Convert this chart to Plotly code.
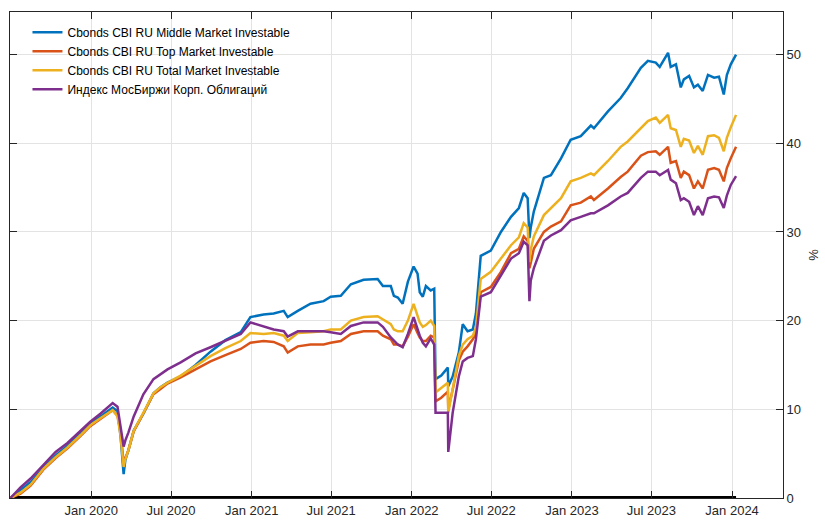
import plotly.graph_objects as go

dates = [
    "2019-07-01", "2019-07-24", "2019-08-16", "2019-09-14", "2019-10-12", "2019-11-08",
    "2019-12-08", "2019-12-30", "2020-01-22", "2020-02-19", "2020-03-01", "2020-03-08",
    "2020-03-15", "2020-03-19", "2020-03-26", "2020-04-07", "2020-04-29", "2020-05-22",
    "2020-06-07", "2020-06-23", "2020-07-23", "2020-08-26", "2020-09-29", "2020-11-02",
    "2020-12-07", "2020-12-29", "2021-01-28", "2021-02-20", "2021-03-15", "2021-03-24",
    "2021-04-16", "2021-05-15", "2021-06-14", "2021-06-30", "2021-07-23", "2021-08-15",
    "2021-09-13", "2021-10-15", "2021-10-27", "2021-11-14", "2021-11-21", "2021-11-30",
    "2021-12-11", "2021-12-23", "2022-01-05", "2022-01-14", "2022-01-19", "2022-01-26",
    "2022-02-02", "2022-02-13", "2022-02-21", "2022-02-24", "2022-03-09", "2022-03-24",
    "2022-03-25", "2022-04-04", "2022-04-18", "2022-04-27", "2022-05-08", "2022-05-20",
    "2022-05-27", "2022-06-07", "2022-06-30", "2022-07-23", "2022-08-15", "2022-09-02",
    "2022-09-13", "2022-09-22", "2022-09-26", "2022-09-29", "2022-10-06", "2022-10-29",
    "2022-11-14", "2022-12-07", "2022-12-29", "2023-01-21", "2023-02-13", "2023-02-20",
    "2023-03-24", "2023-04-22", "2023-05-08", "2023-06-07", "2023-06-23", "2023-07-11",
    "2023-07-20", "2023-08-08", "2023-08-14", "2023-08-26", "2023-09-06", "2023-09-13",
    "2023-09-25", "2023-10-06", "2023-10-15", "2023-10-26", "2023-11-07", "2023-11-21",
    "2023-12-02", "2023-12-13", "2023-12-20", "2023-12-29", "2024-01-10",
]

middle_market = [
    0.0, 0.9, 1.8, 3.4, 4.8, 5.9, 7.3, 8.4, 9.2, 10.2, 9.8, 7.0,
    2.7, 4.3, 5.4, 7.6, 9.5, 11.8, 12.5, 13.0, 13.7, 15.0, 16.5, 17.8,
    18.7, 20.4, 20.7, 20.8, 21.1, 20.4, 21.1, 21.9, 22.2, 22.7, 22.8, 24.1,
    24.6, 24.7, 23.9, 23.9, 22.8, 22.6, 21.9, 24.4, 26.1, 25.3, 23.2, 22.7,
    23.9, 23.4, 23.6, 13.4, 13.8, 14.7, 12.6, 13.7, 16.4, 19.6, 18.8, 19.0,
    20.8, 27.3, 27.9, 30.0, 31.7, 32.7, 34.4, 33.8, 29.3, 30.5, 32.3, 36.1,
    36.4, 38.3, 40.4, 40.8, 42.0, 41.7, 43.6, 45.1, 46.2, 48.5, 49.3, 49.1,
    48.6, 50.2, 48.6, 48.9, 46.3, 47.2, 47.6, 46.3, 46.6, 45.9, 47.7, 47.4,
    47.5, 45.5, 47.7, 48.9, 50.0,
]

top_market = [
    0.0, 0.5, 1.4, 3.2, 4.5, 5.6, 7.0, 8.1, 8.9, 9.9, 9.3, 7.5,
    4.0, 4.6, 5.4, 7.5, 9.5, 11.7, 12.3, 12.9, 13.6, 14.5, 15.4, 16.1,
    16.8, 17.5, 17.7, 17.6, 17.1, 16.4, 17.1, 17.3, 17.3, 17.5, 17.7, 18.5,
    18.8, 18.8, 18.3, 17.9, 17.3, 17.3, 17.1, 18.2, 19.6, 18.6, 18.1, 17.7,
    17.7, 18.3, 18.1, 10.9, 11.3, 12.0, 10.0, 12.2, 15.5, 16.5, 17.1, 17.9,
    18.6, 23.2, 23.8, 25.5, 27.6, 28.1, 29.5, 29.0, 25.9, 26.5, 28.1, 30.0,
    30.6, 31.2, 33.0, 33.3, 34.0, 33.6, 34.9, 36.2, 36.8, 38.6, 39.0, 39.1,
    38.7, 39.6, 37.8, 38.0, 36.1, 36.8, 36.4, 34.9, 35.7, 34.9, 37.0, 37.2,
    37.0, 35.7, 37.2, 38.3, 39.6,
]

total_market = [
    0.0, 0.6, 1.5, 3.3, 4.6, 5.7, 7.1, 8.2, 9.0, 9.9, 9.2, 7.0,
    3.5, 4.4, 5.4, 7.6, 9.6, 11.8, 12.5, 13.0, 13.8, 14.9, 16.0, 16.9,
    17.7, 18.6, 18.5, 18.6, 18.3, 17.7, 18.6, 18.7, 18.8, 19.0, 19.0, 20.0,
    20.4, 20.5, 20.1, 19.6, 19.0, 18.8, 18.8, 20.0, 21.9, 20.5, 19.8, 19.3,
    19.5, 20.0, 19.4, 11.9, 12.4, 13.0, 9.6, 12.2, 16.0, 17.3, 17.9, 18.3,
    19.2, 24.7, 25.5, 27.0, 28.5, 29.4, 31.0, 30.5, 26.6, 28.0, 29.5, 31.9,
    32.7, 33.8, 35.7, 36.1, 36.6, 36.4, 38.0, 39.6, 40.2, 41.7, 42.5, 42.9,
    42.3, 43.2, 41.7, 41.5, 39.6, 40.5, 40.3, 38.9, 39.7, 38.7, 40.8, 40.9,
    40.6, 39.1, 40.6, 41.8, 43.2,
]

moex_corp = [
    0.0, 1.2, 2.2, 3.7, 5.2, 6.2, 7.6, 8.6, 9.5, 10.7, 10.3, 8.0,
    5.8, 6.5, 7.4, 9.2, 11.7, 13.4, 14.0, 14.5, 15.3, 16.3, 17.0, 17.7,
    18.5, 19.8, 19.3, 19.0, 18.8, 18.2, 18.8, 18.8, 18.8, 18.7, 18.5, 19.4,
    19.8, 19.8, 19.3, 18.1, 17.7, 17.3, 17.0, 18.5, 20.4, 18.9, 18.3, 17.5,
    17.1, 18.0, 17.3, 9.6, 9.6, 9.6, 5.2, 9.6, 13.7, 15.4, 15.8, 16.0,
    17.9, 22.7, 23.2, 25.1, 27.0, 27.6, 28.9, 28.5, 22.2, 24.5, 25.9, 29.0,
    29.6, 30.2, 31.3, 31.7, 32.1, 32.1, 33.0, 34.0, 34.4, 36.1, 36.8, 36.8,
    36.4, 37.0, 35.9, 35.5, 33.6, 33.8, 33.4, 31.9, 32.9, 31.9, 33.8, 34.0,
    33.9, 32.7, 34.1, 35.3, 36.3,
]

series_names = [
    "Cbonds CBI RU Middle Market Investable",
    "Cbonds CBI RU Top Market Investable",
    "Cbonds CBI RU Total Market Investable",
    "Индекс МосБиржи Корп. Облигаций",
]
series_values = [middle_market, top_market, total_market, moex_corp]
colors = ["#0072BD", "#D95319", "#EDB120", "#7E2F8E"]

FONT = "Liberation Sans, Arial, Helvetica, sans-serif"

fig = go.Figure()

# zero baseline drawn as data
fig.add_trace(go.Scatter(
    x=[dates[0], dates[-1]], y=[0, 0], mode="lines",
    line=dict(color="black", width=4), showlegend=False, hoverinfo="skip",
))

for name, vals, col in zip(series_names, series_values, colors):
    fig.add_trace(go.Scatter(
        x=dates, y=vals, mode="lines", name=name,
        line=dict(color=col, width=2.5),
    ))

axis_common = dict(
    showline=True, linecolor="#262626", linewidth=1, mirror="ticks",
    ticks="inside", ticklen=7, tickcolor="#262626", tickwidth=1,
    showgrid=True, gridcolor="#e3e3e3", gridwidth=1, zeroline=False,
    tickfont=dict(family=FONT, size=13, color="#262626"),
    automargin=False,
)

fig.update_layout(
    width=825, height=521,
    margin=dict(l=10, r=42, t=12, b=23),
    paper_bgcolor="white", plot_bgcolor="white",
    font=dict(family=FONT, color="#262626"),
    xaxis=dict(
        range=["2019-06-30", "2024-04-26"], type="date",
        tick0="2020-01-01", dtick="M6", tickformat="%b %Y",
        **axis_common,
    ),
    yaxis=dict(
        range=[0, 54.8], side="right", dtick=10,
        title=dict(text="%", font=dict(family=FONT, size=13, color="#262626"), standoff=8),
        **axis_common,
    ),
    legend=dict(
        x=0.0226, y=0.988, xanchor="left", yanchor="top",
        bgcolor="rgba(255,255,255,0)", borderwidth=0,
        font=dict(family=FONT, size=12, color="black"),
        tracegroupgap=0,
    ),
    showlegend=True,
)

fig.write_html(
    "out.html",
    config={"displayModeBar": False},
    post_script="document.body.style.margin='0';document.body.style.overflow='hidden';",
)
